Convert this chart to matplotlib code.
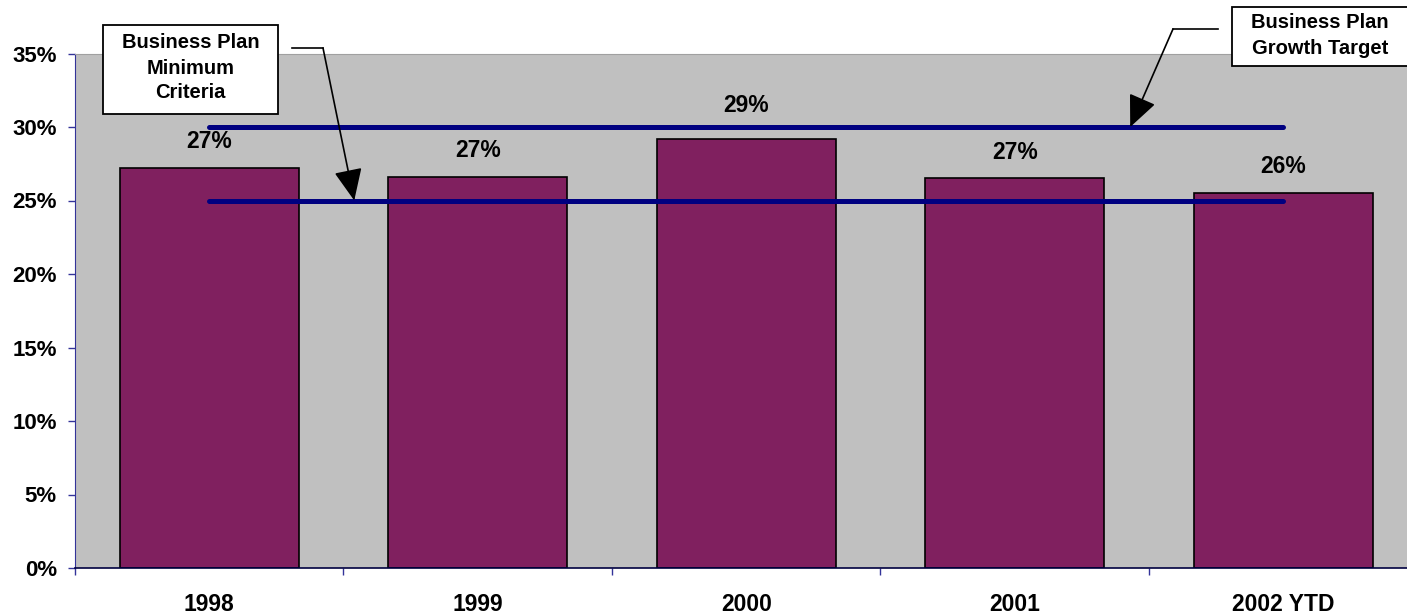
import matplotlib.pyplot as plt
from matplotlib.patches import Rectangle
from matplotlib.ticker import FixedLocator, FuncFormatter

plt.rcParams['font.family'] = ['Liberation Sans', 'DejaVu Sans']
plt.rcParams['font.weight'] = 'bold'

# Данные
years = ['1998', '1999', '2000', '2001', '2002 YTD']
margin = [27.2, 26.6, 29.2, 26.5, 25.5]
labels = ['27%', '27%', '29%', '27%', '26%']
growth_target = 30
minimum_criteria = 25

BAR_COLOR = '#80205F'
LINE_COLOR = '#000080'
BG_COLOR = '#C0C0C0'

W, H = 1407, 616
fig = plt.figure(figsize=(W / 100, H / 100), dpi=100)
# область графика выходит за правый край, как в оригинале
ax = fig.add_axes([75 / W, 48 / H, 1342.5 / W, 514.5 / H])
ax.set_facecolor(BG_COLOR)

x = list(range(len(years)))
ax.bar(x, margin, width=0.667, color=BAR_COLOR, edgecolor='black', linewidth=1.2, zorder=2)

# Линии целевых показателей: от первого до последнего года
ax.plot([x[0], x[-1]], [growth_target] * 2, color=LINE_COLOR, lw=3.6, solid_capstyle='round', zorder=3)
ax.plot([x[0], x[-1]], [minimum_criteria] * 2, color=LINE_COLOR, lw=3.6, solid_capstyle='round', zorder=3)

# Подписи значений над столбцами
for i, (v, lab) in enumerate(zip(margin, labels)):
    off = 24 if i == 2 else 19
    ax.annotate(lab, (x[i], v), xytext=(0, off), textcoords='offset points',
                ha='center', va='center', fontsize=16.5, fontweight='bold', zorder=4)

ax.set_xlim(-0.5, len(years) - 0.5)
ax.set_ylim(0, 35)
ax.yaxis.set_major_locator(FixedLocator(range(0, 36, 5)))
ax.yaxis.set_major_formatter(FuncFormatter(lambda v, _: f'{v:.0f}%'))
ax.set_xticks(x)
ax.set_xticklabels(years)
ax.xaxis.set_minor_locator(FixedLocator([i - 0.5 for i in range(len(years) + 1)]))

ax.tick_params(axis='y', length=5, width=1, color='#333399', pad=8, labelsize=16)
ax.tick_params(axis='x', which='major', length=0, pad=18, labelsize=16.5)
ax.tick_params(axis='x', which='minor', length=5, width=1, color='#333399')
for lab in ax.get_xticklabels() + ax.get_yticklabels():
    lab.set_fontweight('bold')

ax.spines['left'].set_color('#333399')
ax.spines['bottom'].set_color('#000040')
ax.spines['bottom'].set_linewidth(1.2)
ax.spines['top'].set_color('#A0A0A0')
ax.spines['right'].set_visible(False)


def callout(text, box, text_xy, start, corner, tip):
    """Рамка с текстом и стрелка с изломом к линии."""
    bx0, by0, bx1, by1 = box
    fig.patches.append(Rectangle((bx0 / W, 1 - by1 / H), (bx1 - bx0) / W, (by1 - by0) / H,
                                 transform=fig.transFigure, facecolor='white',
                                 edgecolor='black', lw=1.3, zorder=5))
    fig.text(text_xy[0] / W, 1 - text_xy[1] / H, text, ha='center', va='center',
             fontsize=14.5, fontweight='bold', linespacing=1.4, zorder=6)
    sx, sy = start
    cx, cy = corner
    fig.add_artist(plt.Line2D([sx / W, cx / W], [1 - sy / H, 1 - cy / H],
                              transform=fig.transFigure, color='black', lw=1.2))
    ax.annotate('', xy=tip, xycoords='data',
                xytext=(cx / W, 1 - cy / H), textcoords='figure fraction',
                annotation_clip=False,
                arrowprops=dict(arrowstyle='-|>,head_length=0.9,head_width=0.4',
                                mutation_scale=22, color='black', lw=1.2,
                                shrinkA=0, shrinkB=0), zorder=6)


callout('Business Plan\nMinimum\nCriteria', (103, 25, 278, 114), (190.5, 68),
        (292, 48), (323, 48), (0.54, minimum_criteria))
callout('Business Plan\nGrowth Target', (1232, 7, 1410, 66), (1320, 35.5),
        (1218, 29), (1173, 29), (3.43, growth_target))

fig.savefig('out.png', dpi=100)
